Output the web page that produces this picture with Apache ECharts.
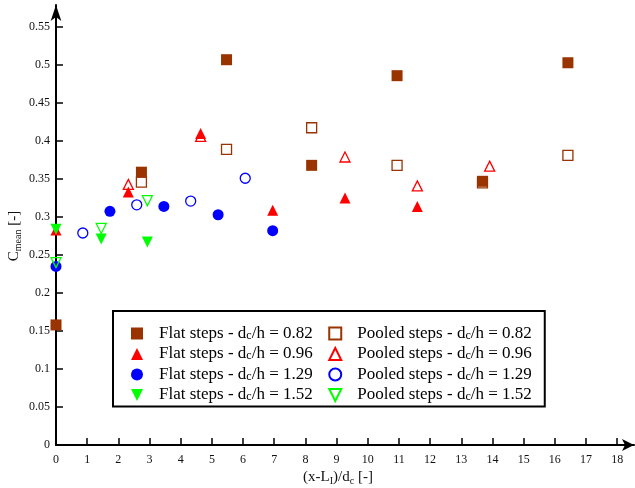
<!DOCTYPE html>
<html><head><meta charset="utf-8">
<script src="https://cdn.jsdelivr.net/npm/echarts@6/dist/echarts.min.js"></script>
<style>html,body{margin:0;padding:0;background:#fff}#c{width:635px;height:488px}</style>
</head><body><div id="c"></div>
<script>
const xTicks = [0,1,2,3,4,5,6,7,8,9,10,11,12,13,14,15,16,17,18];
const yTicks = [0,0.05,0.1,0.15,0.2,0.25,0.3,0.35,0.4,0.45,0.5,0.55];

const flat082   = [[0,0.158],[2.74,0.359],[5.47,0.507],[8.2,0.368],[10.94,0.486],[13.68,0.347],[16.42,0.503]];
const pooled082 = [[2.74,0.346],[5.47,0.389],[8.2,0.4175],[10.94,0.368],[13.68,0.345],[16.42,0.381]];
const flat096   = [[0,0.283],[2.32,0.333],[4.64,0.41],[6.95,0.309],[9.27,0.325],[11.59,0.314]];
const pooled096 = [[2.32,0.343],[4.64,0.406],[9.27,0.379],[11.59,0.341],[13.91,0.367]];
const flat129   = [[0,0.235],[1.73,0.3075],[3.46,0.314],[5.2,0.303],[6.95,0.282]];
const pooled129 = [[0.86,0.279],[2.59,0.316],[4.32,0.321],[6.07,0.351]];
const flat152   = [[0,0.284],[1.45,0.271],[2.93,0.267]];
const pooled152 = [[0,0.24],[1.45,0.285],[2.93,0.3215]];

const names = [
  'Flat steps - dc/h = 0.82','Flat steps - dc/h = 0.96','Flat steps - dc/h = 1.29','Flat steps - dc/h = 1.52',
  'Pooled steps - dc/h = 0.82','Pooled steps - dc/h = 0.96','Pooled steps - dc/h = 1.29','Pooled steps - dc/h = 1.52'
];

const FONT = 'Liberation Serif';
const BROWN = '#993300', RED = '#ff0000', BLUE = '#0000ff', GREEN = '#00ff00';
const DOWN = 'path://M0,0 L10,0 L5,10 Z';

function filled(name, data, symbol, size, color) {
  return { type:'scatter', name, data, symbol, symbolSize:size, symbolKeepAspect:true, clip:false,
    itemStyle:{color, opacity:1}, emphasis:{disabled:true} };
}
function open(name, data, symbol, size, color) {
  return { type:'scatter', name, data, symbol, symbolSize:size, symbolKeepAspect:true, clip:false,
    itemStyle:{color:'rgba(255,255,255,0)', borderColor:color, borderWidth:1.3, opacity:1}, emphasis:{disabled:true} };
}

const chart = echarts.init(document.getElementById('c'), null, {renderer:'canvas'});
chart.setOption({
  animation:false,
  backgroundColor:'#fff',
  grid:{left:56, right:1, top:5, bottom:43, containLabel:false, outerBoundsMode:'none'},
  xAxis:{
    type:'value', min:0, max:18.54, interval:1,
    name:'{c|(x-L}{s|I}{c|)/d}{s|c}{c| [-]}', nameLocation:'middle', nameGap:23, nameMoveOverlap:false,
    nameTextStyle:{fontFamily:FONT, fontSize:15, color:'#111', padding:[0,14,0,0],
      rich:{c:{fontFamily:FONT,fontSize:15,lineHeight:18,color:'#111'}, s:{fontFamily:FONT,fontSize:10,lineHeight:9,verticalAlign:'bottom',color:'#111'}}},
    axisLine:{show:true, onZero:false, symbol:['none','arrow'], symbolSize:[9,12], lineStyle:{color:'#000', width:2}},
    axisTick:{show:true, inside:true, length:7, customValues:xTicks, lineStyle:{color:'#000', width:1.5}},
    axisLabel:{show:true, margin:9, customValues:xTicks, fontFamily:FONT, fontSize:12, color:'#111'},
    splitLine:{show:false}
  },
  yAxis:{
    type:'value', min:0, max:0.579, interval:0.05,
    name:'{c|C}{s|mean}{c| [-]}', nameLocation:'middle', nameGap:33, nameMoveOverlap:false,
    nameTextStyle:{fontFamily:FONT, fontSize:15, color:'#111', padding:[0,22,0,0],
      rich:{c:{fontFamily:FONT,fontSize:15,lineHeight:18,color:'#111'}, s:{fontFamily:FONT,fontSize:10,lineHeight:9,verticalAlign:'bottom',color:'#111'}}},
    axisLine:{show:true, onZero:false, symbol:['none','arrow'], symbolSize:[8,16], lineStyle:{color:'#000', width:2}},
    axisTick:{show:true, inside:true, length:7, customValues:yTicks, lineStyle:{color:'#000', width:1.5}},
    axisLabel:{show:true, margin:6, customValues:yTicks, fontFamily:FONT, fontSize:12, color:'#111'},
    splitLine:{show:false}
  },
  legend:{
    orient:'vertical', left:113, top:311, height:80,
    padding:[14,13,3,18], itemGap:3.5, itemWidth:12, itemHeight:12,
    borderColor:'#000', borderWidth:2, backgroundColor:'#fff',
    data:names,
    formatter:function(n){
      const m = n.match(/^(.* - d)c(\/h = .*)$/);
      const last = n.indexOf('Flat') === 0 ? 'e' : 't';
      return '{a|'+m[1]+'}{s|c}{'+last+'|'+m[2]+'}';
    },
    textStyle:{fontFamily:FONT, fontSize:17, color:'#000',
      rich:{
        a:{fontFamily:FONT,fontSize:17,lineHeight:16,color:'#000',padding:[0,0,0,11]},
        t:{fontFamily:FONT,fontSize:17,lineHeight:16,color:'#000'},
        e:{fontFamily:FONT,fontSize:17,lineHeight:16,color:'#000',padding:[0,13,0,0]},
        s:{fontFamily:FONT,fontSize:12,lineHeight:8,verticalAlign:'bottom',color:'#000'}}},
    selectedMode:false
  },
  series:[
    open(names[4], pooled082, 'rect', 10, BROWN),
    filled(names[0], flat082, 'rect', 11, BROWN),
    open(names[5], pooled096, 'triangle', 10, RED),
    filled(names[1], flat096, 'triangle', 11, RED),
    open(names[6], pooled129, 'circle', 10, BLUE),
    filled(names[2], flat129, 'circle', 11, BLUE),
    filled(names[3], flat152, DOWN, 11, GREEN),
    open(names[7], pooled152, DOWN, 10, GREEN)
  ]
});
</script></body></html>
